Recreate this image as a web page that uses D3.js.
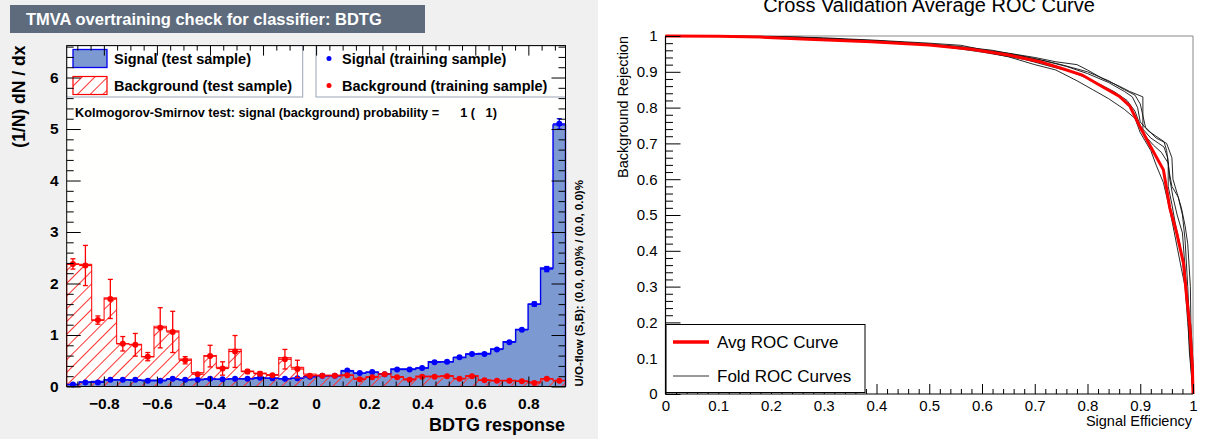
<!DOCTYPE html>
<html>
<head>
<meta charset="utf-8">
<script src="https://cdn.jsdelivr.net/npm/d3@7"></script>
<style>
  body { margin: 0; background: #fff; }
  svg { display: block; font-family: "Liberation Sans", Arial, Helvetica, sans-serif; }
</style>
</head>
<body>
<script>
// ---- overtraining check data (40 bins of BDTG response) ----
const nBins = 40;
const xRange = [-0.94, 0.94];
const yMaxLeft = 6.62;

const sigTest  = [0.04,0.09,0.10,0.13,0.13,0.12,0.12,0.12,0.14,0.13,0.14,0.14,0.14,0.15,0.15,0.16,0.16,0.15,0.16,0.19,
                  0.21,0.21,0.30,0.26,0.28,0.25,0.34,0.34,0.36,0.48,0.48,0.56,0.63,0.64,0.73,0.87,1.11,1.60,2.30,5.08];
const sigTrain = [0.04,0.08,0.08,0.13,0.13,0.13,0.11,0.11,0.15,0.13,0.13,0.15,0.14,0.15,0.15,0.17,0.16,0.15,0.16,0.19,
                  0.21,0.21,0.31,0.26,0.28,0.24,0.33,0.33,0.36,0.47,0.48,0.57,0.63,0.63,0.72,0.86,1.10,1.60,2.28,5.10];
const sigTrainErr = [0.01,0.01,0.01,0.01,0.01,0.01,0.01,0.01,0.01,0.01,0.01,0.01,0.01,0.01,0.01,0.01,0.01,0.01,0.01,0.01,
                  0.01,0.01,0.02,0.02,0.02,0.02,0.02,0.02,0.02,0.02,0.02,0.02,0.02,0.02,0.02,0.03,0.03,0.04,0.05,0.10];
const bkgTest  = [2.37,2.37,1.29,1.72,0.83,0.82,0.58,1.17,1.08,0.53,0.27,0.60,0.37,0.72,0.30,0.26,0.23,0.56,0.37,0.24,
                  0.22,0.22,0.22,0.16,0.19,0.25,0.19,0.15,0.20,0.20,0.21,0.16,0.21,0.13,0.12,0.12,0.11,0.09,0.15,0.12];
const bkgTrain = [2.38,2.35,1.29,1.70,0.83,0.81,0.58,1.14,1.06,0.51,0.24,0.59,0.35,0.68,0.29,0.25,0.22,0.53,0.34,0.21,
                  0.21,0.21,0.22,0.14,0.18,0.24,0.18,0.13,0.19,0.19,0.20,0.15,0.20,0.12,0.11,0.11,0.10,0.07,0.15,0.11];
const bkgTrainErr = [0.10,0.39,0.08,0.38,0.14,0.22,0.08,0.39,0.40,0.07,0.03,0.21,0.13,0.31,0.04,0.04,0.03,0.19,0.17,0.03,
                  0.03,0.03,0.03,0.02,0.03,0.03,0.02,0.02,0.02,0.02,0.02,0.02,0.02,0.02,0.02,0.02,0.02,0.02,0.03,0.02];

const leftXTicks = [-0.8,-0.6,-0.4,-0.2,0,0.2,0.4,0.6,0.8];
const leftYTicks = [0,1,2,3,4,5,6];

// ---- cross validation ROC data (signal efficiency, background rejection) ----
const rocAvg = [[0,1],[0.1,0.999],[0.18,0.997],[0.27,0.991],[0.39,0.984],[0.5,0.975],[0.58,0.963],[0.65,0.947],
  [0.71,0.928],[0.75,0.91],[0.79,0.891],[0.82,0.865],[0.86,0.832],[0.88,0.805],[0.9,0.745],[0.92,0.69],[0.944,0.626],
  [0.956,0.52],[0.969,0.45],[0.982,0.365],[0.988,0.27],[0.994,0.19],[0.999,0.07],[1,0]];
const rocFold1 = [[0,1],[0.2,0.999],[0.3,0.995],[0.4,0.988],[0.5,0.98],[0.56,0.974],[0.6,0.962],[0.65,0.952],[0.7,0.94],
  [0.74,0.928],[0.78,0.92],[0.8,0.905],[0.83,0.88],[0.86,0.86],[0.88,0.845],[0.905,0.83],[0.905,0.74],[0.92,0.715],
  [0.935,0.7],[0.945,0.69],[0.952,0.66],[0.956,0.6],[0.962,0.55],[0.97,0.5],[0.98,0.45],[0.985,0.35],[0.99,0.25],
  [0.995,0.15],[0.998,0.05],[1,0]];
const rocFold2 = [[0,1],[0.15,0.999],[0.3,0.993],[0.45,0.982],[0.55,0.97],[0.6,0.958],[0.65,0.942],[0.7,0.92],[0.74,0.905],
  [0.78,0.875],[0.81,0.85],[0.84,0.825],[0.87,0.795],[0.89,0.77],[0.9,0.73],[0.92,0.68],[0.93,0.64],[0.944,0.59],
  [0.955,0.52],[0.962,0.47],[0.97,0.41],[0.978,0.35],[0.985,0.3],[0.99,0.2],[0.995,0.1],[1,0]];
const rocFold3 = [[0,1],[0.2,0.998],[0.35,0.99],[0.5,0.978],[0.6,0.96],[0.66,0.948],[0.72,0.93],[0.76,0.915],[0.8,0.895],
  [0.84,0.87],[0.87,0.845],[0.885,0.83],[0.895,0.8],[0.9,0.76],[0.915,0.735],[0.93,0.72],[0.945,0.705],[0.95,0.68],
  [0.955,0.62],[0.96,0.58],[0.972,0.55],[0.98,0.5],[0.985,0.43],[0.99,0.3],[0.995,0.15],[1,0]];
const rocFold4 = [[0,1],[0.25,0.997],[0.4,0.985],[0.52,0.972],[0.6,0.955],[0.68,0.935],[0.73,0.915],[0.77,0.9],[0.81,0.875],
  [0.85,0.845],[0.875,0.82],[0.89,0.79],[0.9,0.75],[0.91,0.72],[0.925,0.695],[0.94,0.675],[0.953,0.645],[0.953,0.58],
  [0.96,0.53],[0.966,0.48],[0.975,0.42],[0.982,0.35],[0.99,0.25],[0.993,0.12],[1,0]];
const rocFold5 = [[0,1],[0.2,0.998],[0.4,0.987],[0.55,0.972],[0.62,0.96],[0.7,0.937],[0.75,0.92],[0.8,0.9],[0.84,0.875],
  [0.87,0.85],[0.89,0.835],[0.9,0.81],[0.91,0.745],[0.93,0.715],[0.95,0.7],[0.96,0.66],[0.962,0.6],[0.97,0.56],
  [0.978,0.52],[0.985,0.47],[0.99,0.42],[0.995,0.3],[0.996,0.2],[1,0.08],[1,0]];
const rocFolds = [rocFold1, rocFold2, rocFold3, rocFold4, rocFold5];
const rocXTicks = [0,0.1,0.2,0.3,0.4,0.5,0.6,0.7,0.8,0.9,1];
const rocYTicks = [0,0.1,0.2,0.3,0.4,0.5,0.6,0.7,0.8,0.9,1];

const sigFill = "#7d99d1", sigLine = "#0000ee", bkgLine = "#ff0000";

const svg = d3.select("body").append("svg").attr("width", 1208).attr("height", 439);
const defs = svg.append("defs");
const hatch = defs.append("pattern").attr("id", "hatch").attr("patternUnits", "userSpaceOnUse")
  .attr("width", 9).attr("height", 9).attr("patternTransform", "rotate(45)");
hatch.append("line").attr("x1", 4.5).attr("y1", 0).attr("x2", 4.5).attr("y2", 9)
  .attr("stroke", "#ff3333").attr("stroke-width", 1);

// ================= left: overtraining check =================
const left = svg.append("g");
left.append("rect").attr("width", 598).attr("height", 439).attr("fill", "#f0f0f0");
left.append("rect").attr("x", 10).attr("y", 5).attr("width", 415).attr("height", 28).attr("fill", "#5d6b7d");
left.append("text").attr("x", 26).attr("y", 25).attr("fill", "#fff").attr("font-weight", "bold")
  .attr("font-size", 16.5).text("TMVA overtraining check for classifier: BDTG");

const x = d3.scaleLinear().domain(xRange).range([66.7, 565.5]);
const y = d3.scaleLinear().domain([0, yMaxLeft]).range([386.5, 45.6]);
const edges = d3.range(nBins + 1).map(i => xRange[0] + i * (xRange[1] - xRange[0]) / nBins);
const centers = d3.range(nBins).map(i => (edges[i] + edges[i + 1]) / 2);

left.append("rect").attr("x", x(xRange[0])).attr("y", y(yMaxLeft))
  .attr("width", x(xRange[1]) - x(xRange[0])).attr("height", y(0) - y(yMaxLeft)).attr("fill", "#fffffd");

function outline(vals) {
  const p = [[edges[0], 0]];
  vals.forEach((v, i) => { p.push([edges[i], v]); p.push([edges[i + 1], v]); });
  p.push([edges[nBins], 0]);
  return p;
}
const line = d3.line().x(d => x(d[0])).y(d => y(d[1]));

left.append("path").attr("d", line(outline(sigTest))).attr("fill", sigFill)
  .attr("stroke", sigLine).attr("stroke-width", 1.4);
left.append("path").attr("d", line(outline(bkgTest))).attr("fill", "url(#hatch)")
  .attr("stroke", bkgLine).attr("stroke-width", 1.2).attr("stroke-opacity", 0.85);

function points(vals, errs, color) {
  const g = left.append("g").attr("stroke", color).attr("fill", color).attr("stroke-width", 1.3);
  const pts = g.selectAll("g").data(vals.map((v, i) => ({ v, e: errs[i], i }))).join("g");
  pts.append("line").attr("x1", d => x(edges[d.i])).attr("x2", d => x(edges[d.i + 1]))
    .attr("y1", d => y(d.v)).attr("y2", d => y(d.v));
  pts.append("line").attr("x1", d => x(centers[d.i])).attr("x2", d => x(centers[d.i]))
    .attr("y1", d => y(d.v - d.e)).attr("y2", d => y(d.v + d.e));
  pts.filter(d => d.e > 0.03).selectAll("line.cap").data(d => [d.v - d.e, d.v + d.e].map(t => ({ t, i: d.i })))
    .join("line").attr("class", "cap")
    .attr("x1", d => x(centers[d.i]) - 2.5).attr("x2", d => x(centers[d.i]) + 2.5)
    .attr("y1", d => y(d.t)).attr("y2", d => y(d.t));
  pts.append("circle").attr("cx", d => x(centers[d.i])).attr("cy", d => y(d.v)).attr("r", 3).attr("stroke", "none");
}
points(sigTrain, sigTrainErr, "#0000ff");
points(bkgTrain, bkgTrainErr, "#ff0000");

// legends
const lg = left.append("g").attr("font-size", 14.5).attr("font-weight", "bold");
lg.append("rect").attr("x", 66.7).attr("y", 45.6).attr("width", 236).attr("height", 51.4)
  .attr("fill", "#fff").attr("stroke", "#9aa5b5");
lg.append("rect").attr("x", 316).attr("y", 45.6).attr("width", 249.5).attr("height", 51.4)
  .attr("fill", "#fff").attr("stroke", "#9aa5b5");
lg.append("rect").attr("x", 73).attr("y", 49.5).attr("width", 34).attr("height", 18)
  .attr("fill", sigFill).attr("stroke", sigLine).attr("stroke-width", 1.3);
lg.append("rect").attr("x", 73).attr("y", 76.5).attr("width", 34).attr("height", 18)
  .attr("fill", "url(#hatch)").attr("stroke", bkgLine).attr("stroke-width", 1.2);
lg.append("text").attr("x", 114).attr("y", 64).text("Signal (test sample)");
lg.append("text").attr("x", 114).attr("y", 91).text("Background (test sample)");
lg.append("circle").attr("cx", 329).attr("cy", 58.5).attr("r", 2.5).attr("fill", "#0000ff");
lg.append("circle").attr("cx", 329).attr("cy", 85.5).attr("r", 2.5).attr("fill", "#ff0000");
lg.append("text").attr("x", 342).attr("y", 64).text("Signal (training sample)");
lg.append("text").attr("x", 342).attr("y", 91).text("Background (training sample)");

left.append("text").attr("x", 75).attr("y", 116.5).attr("font-size", 12.7).attr("font-weight", "bold")
  .attr("xml:space", "preserve").style("white-space", "pre")
  .text("Kolmogorov-Smirnov test: signal (background) probability =      1 (   1)");

// axes (ticks inside, ROOT style)
const fmtLeft = d => d === 0 ? "0" : d3.format(".1f")(d);
const xMinor = d3.range(-0.9, 0.95, 0.05).filter(v => Math.abs(v * 5 - Math.round(v * 5)) > 1e-6);
const yMinor = d3.range(0.2, yMaxLeft, 0.2).filter(v => Math.abs(v - Math.round(v)) > 1e-6);
function ax(gen, tr, vals, size, fmt) {
  const g = left.append("g").attr("transform", tr)
    .call(gen.tickValues(vals).tickSize(size).tickPadding(6).tickFormat(fmt || (() => "")));
  g.select(".domain").remove();
  g.selectAll("text").attr("font-size", 15.5).attr("font-weight", "bold")
    .attr("font-family", "Liberation Sans, Arial, sans-serif").attr("fill", "#000");
  return g;
}
ax(d3.axisBottom(x), `translate(0,${y(0)})`, leftXTicks, -10, fmtLeft).selectAll("text").attr("dy", "1.05em");
ax(d3.axisBottom(x), `translate(0,${y(0)})`, xMinor, -5);
ax(d3.axisTop(x), `translate(0,${y(yMaxLeft)})`, leftXTicks, -10);
ax(d3.axisTop(x), `translate(0,${y(yMaxLeft)})`, xMinor, -5);
ax(d3.axisLeft(y), `translate(${x(xRange[0])},0)`, leftYTicks, -14, d3.format("d")).selectAll("text").attr("dx", "-2");
ax(d3.axisLeft(y), `translate(${x(xRange[0])},0)`, yMinor, -7);
ax(d3.axisRight(y), `translate(${x(xRange[1])},0)`, leftYTicks, -14);
ax(d3.axisRight(y), `translate(${x(xRange[1])},0)`, yMinor, -7);
left.append("rect").attr("x", x(xRange[0])).attr("y", y(yMaxLeft))
  .attr("width", x(xRange[1]) - x(xRange[0])).attr("height", y(0) - y(yMaxLeft))
  .attr("fill", "none").attr("stroke", "#000").attr("stroke-width", 1);

left.append("text").attr("transform", `translate(25,${y(yMaxLeft)}) rotate(-90)`).attr("text-anchor", "end")
  .attr("font-size", 17.5).attr("font-weight", "bold").text("(1/N) dN / dx");
left.append("text").attr("x", 565).attr("y", 431).attr("text-anchor", "end")
  .attr("font-size", 18).attr("font-weight", "bold").text("BDTG response");
left.append("text").attr("transform", `translate(583,${y(0)}) rotate(-90)`)
  .attr("font-size", 11.5).attr("font-weight", "bold").text("U/O-flow (S,B): (0.0, 0.0)% / (0.0, 0.0)%");

// ================= right: ROC curves =================
const right = svg.append("g");
const rx = d3.scaleLinear().domain([0, 1]).range([665.5, 1193]);
const ry = d3.scaleLinear().domain([0, 1]).range([394, 36]);

right.append("text").attr("x", 929).attr("y", 12).attr("text-anchor", "middle").attr("font-size", 20)
  .text("Cross Validation Average ROC Curve");

right.append("path").attr("d", `M${rx(0)},${ry(1)}H${rx(1)}V${ry(0)}`).attr("fill", "none")
  .attr("stroke", "#888").attr("stroke-width", 1);

const rline = d3.line().x(d => rx(d[0])).y(d => ry(d[1]));
right.append("g").selectAll("path").data(rocFolds).join("path").attr("d", rline)
  .attr("fill", "none").attr("stroke", "#111").attr("stroke-width", 0.9);
right.append("path").attr("d", rline(rocAvg)).attr("fill", "none").attr("stroke", "#ff0000").attr("stroke-width", 3);

const fmtRoc = d => (d === 0 || d === 1) ? String(d) : d3.format(".1f")(d);
const rMinor = d3.range(0.02, 1, 0.02).filter(v => Math.abs(v * 10 - Math.round(v * 10)) > 1e-6);
function rax(gen, tr, vals, size, fmt) {
  const g = right.append("g").attr("transform", tr)
    .call(gen.tickValues(vals).tickSize(size).tickPadding(6).tickFormat(fmt || (() => "")));
  g.select(".domain").remove();
  g.selectAll("text").attr("font-size", 15).attr("font-family", "Liberation Sans, Arial, sans-serif").attr("fill", "#000");
  return g;
}
rax(d3.axisBottom(rx), `translate(0,${ry(0)})`, rocXTicks, -10, fmtRoc);
rax(d3.axisBottom(rx), `translate(0,${ry(0)})`, rMinor, -5);
rax(d3.axisLeft(ry), `translate(${rx(0)},0)`, rocYTicks, -15, fmtRoc).selectAll("text").attr("dx", "-2");
rax(d3.axisLeft(ry), `translate(${rx(0)},0)`, rMinor, -7.5);

// legend
const rl = right.append("g");
rl.append("rect").attr("x", 666).attr("y", 324.5).attr("width", 199).attr("height", 68)
  .attr("fill", "#fff").attr("stroke", "#000").attr("stroke-width", 1);
rl.append("line").attr("x1", 673).attr("x2", 709).attr("y1", 342).attr("y2", 342).attr("stroke", "#ff0000").attr("stroke-width", 3.5);
rl.append("line").attr("x1", 673).attr("x2", 709).attr("y1", 376).attr("y2", 376).attr("stroke", "#333").attr("stroke-width", 1);
rl.append("text").attr("x", 717).attr("y", 348).attr("font-size", 17).text("Avg ROC Curve");
rl.append("text").attr("x", 717).attr("y", 382).attr("font-size", 17).text("Fold ROC Curves");

right.append("path").attr("d", `M${rx(0)},${ry(1)}V${ry(0)}H${rx(1)}`).attr("fill", "none")
  .attr("stroke", "#000").attr("stroke-width", 1.2);

right.append("text").attr("transform", `translate(628,${ry(1)}) rotate(-90)`).attr("text-anchor", "end")
  .attr("font-size", 14.5).text("Background Rejection");
right.append("text").attr("x", 1192).attr("y", 426).attr("text-anchor", "end")
  .attr("font-size", 14.5).text("Signal Efficiency");
</script>
</body>
</html>
